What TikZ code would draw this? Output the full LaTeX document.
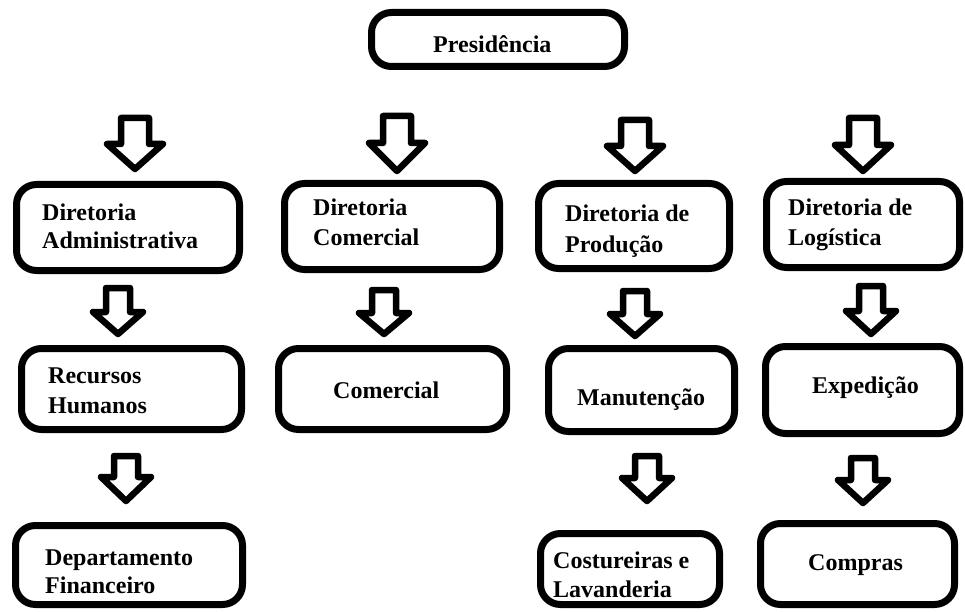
\documentclass[tikz,border=0pt]{standalone}
\usepackage{fontspec}
\setmainfont{Liberation Serif}
\newcommand\barrow[7]{% name cx top neck tip shafthalf headhalf
  \coordinate (#1) at (#2,#3);
  \draw[arrowline] ({#2-#6},#3) -- ({#2+#6},#3) -- ({#2+#6},#4) -- ({#2+#7},#4)
    -- (#2,#5) -- ({#2-#7},#4) -- ({#2-#6},#4) -- cycle;}
\begin{document}
\begin{tikzpicture}[x=1pt,y=-1pt,
  box/.style={draw, line width=7pt, rounded corners=20pt, inner sep=0pt, fill=white},
  lbl/.style={font=\bfseries\fontsize{24}{29}\selectfont, anchor=base west, inner sep=0pt},
  arrowline/.style={draw, line width=6.5pt, line join=round, fill=white}]
\useasboundingbox[fill=white] (0,0) rectangle (965,612);

% boxes
\node[box, minimum width=253pt, minimum height=54pt] (pres) at (498,39.5) {};
\node[box, minimum width=223pt, minimum height=86pt] (da) at (128,227.5) {};
\node[box, minimum width=215pt, minimum height=86pt] (dc) at (392,226.5) {};
\node[box, minimum width=191pt, minimum height=85pt] (dp) at (634,226) {};
\node[box, minimum width=193pt, minimum height=86pt] (dl) at (863,224.5) {};
\node[box, minimum width=220pt, minimum height=81pt] (rh) at (131.5,389) {};
\node[box, minimum width=228pt, minimum height=81pt] (co) at (392.5,389) {};
\node[box, minimum width=186pt, minimum height=83pt] (ma) at (641.5,390) {};
\node[box, minimum width=194pt, minimum height=87pt] (ex) at (862.5,390) {};
\node[box, minimum width=227pt, minimum height=79pt] (df) at (129,565) {};
\node[box, minimum width=179pt, minimum height=71pt] (cl) at (630,569) {};
\node[box, minimum width=194pt, minimum height=81pt] (cp) at (857.5,564) {};

% texts
\node[lbl] (tpres) at (433,53) {Presidência};
\node[lbl] (tda1) at (42,220) {Diretoria};
\node[lbl] (tda2) at (42,248) {Administrativa};
\node[lbl] (tdc1) at (313,215) {Diretoria};
\node[lbl] (tdc2) at (313,245) {Comercial};
\node[lbl] (tdp1) at (565,222) {Diretoria de};
\node[lbl] (tdp2) at (565,252) {Produção};
\node[lbl] (tdl1) at (788,215) {Diretoria de};
\node[lbl] (tdl2) at (788,245) {Logística};
\node[lbl] (trh1) at (48,383) {Recursos};
\node[lbl] (trh2) at (48,413) {Humanos};
\node[lbl] (tco) at (333,398) {Comercial};
\node[lbl] (tma) at (577,405) {Manutenção};
\node[lbl] (tex) at (812,393) {Expedição};
\node[lbl] (tdf1) at (45,565) {Departamento};
\node[lbl] (tdf2) at (45,593) {Financeiro};
\node[lbl] (tcl1) at (553,568) {Costureiras e};
\node[lbl] (tcl2) at (553,597) {Lavanderia};
\node[lbl] (tcp) at (808,570) {Compras};

% block arrows
\barrow{a1}{135}{118}{144}{169}{14}{28}
\barrow{a2}{397}{116}{143}{171}{14}{28}
\barrow{a3}{635}{120}{146}{171}{14}{28}
\barrow{a4}{863}{118}{145}{171}{14}{28}
\barrow{b1}{118}{288}{312}{334}{12}{25}
\barrow{b2}{384}{290}{313}{334}{12}{25}
\barrow{b3}{635}{291}{314}{336}{12}{25}
\barrow{b4}{871}{286}{311}{334}{12}{25}
\barrow{c1}{126}{456}{477}{501}{12}{25}
\barrow{c2}{647}{456}{478}{501}{12}{25}
\barrow{c3}{863}{458}{480}{503}{12}{25}
\end{tikzpicture}
\end{document}
